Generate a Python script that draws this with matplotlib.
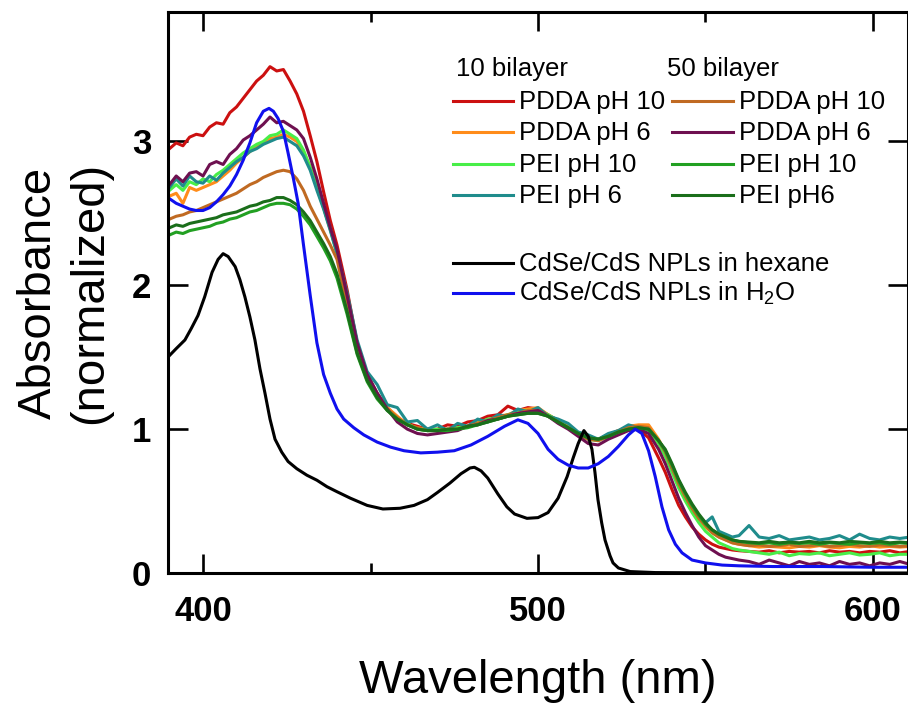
import numpy as np
import matplotlib
matplotlib.use("Agg")
import matplotlib.pyplot as plt
from matplotlib.lines import Line2D

plt.rcParams["font.family"] = ["Liberation Sans", "DejaVu Sans"]
plt.rcParams["mathtext.fontset"] = "custom"
plt.rcParams["mathtext.rm"] = "Liberation Sans"
plt.rcParams["mathtext.it"] = "Liberation Sans:italic"

# ---------------------------------------------------------------- data
# common wavelength sampling (nm) for the film spectra
wl_film = np.concatenate([np.arange(390, 441, 2), np.arange(443, 537, 3),
                          np.arange(538, 561, 2), np.arange(563, 612, 3)])

# 10 bilayer films
pdda_ph10_10 = [
    2.95, 2.99, 2.97, 3.03, 3.05, 3.04, 3.10, 3.13, 3.12, 3.20, 3.24, 3.30, 3.36,
    3.42, 3.46, 3.52, 3.49, 3.50, 3.42, 3.33, 3.21, 3.04, 2.86, 2.65, 2.45, 2.28,
    1.97, 1.60, 1.38, 1.25, 1.15, 1.08, 1.04, 1.02, 1.00, 1.00, 1.03, 1.02, 1.05,
    1.06, 1.09, 1.10, 1.16, 1.13, 1.15, 1.14, 1.10, 1.06, 1.01, 0.97, 0.94, 0.93,
    0.96, 0.99, 1.00, 1.00, 0.94, 0.80,
    0.70, 0.58, 0.47, 0.39, 0.32, 0.27, 0.23, 0.20, 0.18, 0.17, 0.16, 0.155,
    0.15, 0.145, 0.155, 0.14, 0.15, 0.145, 0.15, 0.14, 0.155, 0.145, 0.15, 0.14,
    0.15, 0.145, 0.155, 0.14, 0.15]
pdda_ph6_10 = [
    2.62, 2.64, 2.57, 2.68, 2.66, 2.68, 2.70, 2.72, 2.76, 2.80, 2.85, 2.89, 2.93,
    2.96, 2.99, 3.02, 3.03, 3.05, 3.03, 3.00, 2.93, 2.82, 2.68, 2.54, 2.39, 2.23,
    1.93, 1.58, 1.37, 1.24, 1.15, 1.09, 1.03, 1.01, 1.00, 0.99, 1.00, 1.01, 1.02,
    1.05, 1.06, 1.09, 1.10, 1.13, 1.14, 1.15, 1.10, 1.06, 1.02, 0.97, 0.94, 0.93,
    0.96, 0.99, 1.02, 1.03, 1.03, 0.93,
    0.84, 0.73, 0.62, 0.53, 0.45, 0.38, 0.32, 0.28, 0.25, 0.23, 0.21, 0.20,
    0.19, 0.18, 0.185, 0.18, 0.175, 0.185, 0.18, 0.19, 0.18, 0.175, 0.185, 0.18,
    0.19, 0.18, 0.185, 0.18, 0.185]
pei_ph10_10 = [
    2.66, 2.70, 2.66, 2.72, 2.70, 2.74, 2.72, 2.77, 2.80, 2.84, 2.88, 2.92, 2.95,
    2.98, 3.00, 3.04, 3.05, 3.08, 3.05, 3.02, 2.94, 2.82, 2.68, 2.54, 2.39, 2.22,
    1.92, 1.57, 1.36, 1.23, 1.14, 1.07, 1.04, 1.00, 0.99, 1.00, 0.99, 1.01, 1.02,
    1.04, 1.07, 1.08, 1.10, 1.12, 1.13, 1.13, 1.10, 1.06, 1.01, 0.97, 0.93, 0.92,
    0.95, 0.98, 1.00, 1.01, 0.99, 0.90,
    0.81, 0.70, 0.59, 0.50, 0.42, 0.35, 0.29, 0.25, 0.21, 0.19, 0.17, 0.16,
    0.15, 0.14, 0.13, 0.145, 0.12, 0.135, 0.13, 0.14, 0.12, 0.13, 0.14, 0.125,
    0.13, 0.14, 0.12, 0.13, 0.13]
pei_ph6_10 = [
    2.68, 2.74, 2.69, 2.76, 2.72, 2.71, 2.76, 2.73, 2.78, 2.82, 2.86, 2.89, 2.93,
    2.95, 2.98, 3.00, 3.02, 3.03, 3.00, 2.97, 2.90, 2.80, 2.66, 2.53, 2.38, 2.22,
    1.95, 1.62, 1.40, 1.31, 1.17, 1.15, 1.05, 1.06, 1.00, 1.03, 0.99, 1.04, 1.02,
    1.07, 1.05, 1.10, 1.09, 1.14, 1.12, 1.15, 1.09, 1.07, 1.04, 0.98, 0.96, 0.93,
    0.97, 0.99, 1.03, 1.01, 1.00, 0.92,
    0.85, 0.73, 0.64, 0.54, 0.47, 0.40, 0.35, 0.39, 0.29, 0.27, 0.25, 0.26,
    0.33, 0.25, 0.24, 0.26, 0.23, 0.24, 0.25, 0.23, 0.24, 0.26, 0.23, 0.27,
    0.24, 0.23, 0.25, 0.24, 0.25]

# 50 bilayer films
pdda_ph10_50 = [
    2.46, 2.48, 2.49, 2.51, 2.52, 2.54, 2.56, 2.58, 2.60, 2.62, 2.64, 2.67, 2.70,
    2.72, 2.75, 2.77, 2.79, 2.80, 2.79, 2.74, 2.66, 2.55, 2.46, 2.37, 2.28, 2.18,
    1.86, 1.55, 1.35, 1.23, 1.14, 1.08, 1.03, 1.01, 0.99, 0.99, 1.00, 1.00, 1.02,
    1.04, 1.06, 1.08, 1.10, 1.11, 1.13, 1.13, 1.09, 1.05, 1.01, 0.96, 0.93, 0.92,
    0.95, 0.98, 1.01, 1.02, 1.01, 0.92,
    0.84, 0.73, 0.62, 0.53, 0.45, 0.38, 0.33, 0.28, 0.25, 0.23, 0.21, 0.20,
    0.19, 0.195, 0.185, 0.19, 0.20, 0.185, 0.19, 0.195, 0.185, 0.19, 0.20, 0.19,
    0.185, 0.195, 0.19, 0.185, 0.19]
pdda_ph6_50 = [
    2.70, 2.76, 2.72, 2.78, 2.79, 2.76, 2.84, 2.86, 2.84, 2.91, 2.95, 3.01, 3.04,
    3.08, 3.12, 3.17, 3.13, 3.14, 3.11, 3.08, 3.02, 2.89, 2.74, 2.57, 2.40, 2.25,
    1.93, 1.60, 1.38, 1.25, 1.14, 1.05, 1.00, 0.97, 0.96, 0.97, 0.98, 0.99, 1.02,
    1.03, 1.06, 1.07, 1.09, 1.11, 1.12, 1.13, 1.09, 1.04, 1.00, 0.95, 0.90, 0.89,
    0.93, 0.96, 0.99, 1.00, 0.97, 0.86,
    0.76, 0.64, 0.52, 0.42, 0.33, 0.25, 0.19, 0.16, 0.13, 0.11, 0.10, 0.09,
    0.08, 0.06, 0.09, 0.07, 0.05, 0.08, 0.06, 0.07, 0.05, 0.08, 0.06, 0.07,
    0.05, 0.07, 0.06, 0.08, 0.06]
pei_ph10_50 = [
    2.35, 2.37, 2.36, 2.38, 2.39, 2.40, 2.41, 2.43, 2.44, 2.46, 2.47, 2.49, 2.51,
    2.52, 2.54, 2.56, 2.57, 2.57, 2.56, 2.53, 2.48, 2.42, 2.34, 2.26, 2.17, 2.05,
    1.80, 1.52, 1.33, 1.21, 1.13, 1.07, 1.03, 1.00, 0.99, 0.99, 0.99, 1.00, 1.01,
    1.03, 1.05, 1.07, 1.09, 1.10, 1.11, 1.11, 1.09, 1.05, 1.01, 0.97, 0.94, 0.93,
    0.95, 0.98, 1.00, 1.01, 1.00, 0.92,
    0.85, 0.75, 0.64, 0.55, 0.47, 0.40, 0.34, 0.30, 0.27, 0.25, 0.23, 0.22,
    0.21, 0.205, 0.21, 0.20, 0.21, 0.205, 0.21, 0.20, 0.21, 0.205, 0.20, 0.21,
    0.205, 0.21, 0.20, 0.21, 0.205]
pei_ph6_50 = [
    2.40, 2.42, 2.41, 2.43, 2.44, 2.45, 2.46, 2.47, 2.49, 2.50, 2.51, 2.53, 2.55,
    2.56, 2.58, 2.59, 2.61, 2.61, 2.59, 2.56, 2.51, 2.45, 2.37, 2.29, 2.20, 2.08,
    1.82, 1.53, 1.34, 1.22, 1.13, 1.07, 1.03, 1.00, 0.99, 0.99, 1.00, 1.00, 1.02,
    1.03, 1.05, 1.07, 1.09, 1.10, 1.11, 1.11, 1.09, 1.05, 1.01, 0.97, 0.94, 0.93,
    0.95, 0.98, 1.00, 1.01, 1.00, 0.92,
    0.86, 0.76, 0.65, 0.56, 0.48, 0.41, 0.35, 0.30, 0.27, 0.25, 0.23, 0.22,
    0.215, 0.21, 0.22, 0.21, 0.215, 0.21, 0.22, 0.21, 0.215, 0.21, 0.22, 0.215,
    0.21, 0.22, 0.21, 0.215, 0.21]

# nanoplatelets in hexane
wl_hexane = [389.5, 392, 394.6, 396.5, 398.5, 400.5, 402.7, 404.5, 406, 407.5,
             409.6, 411, 412.5, 414, 415.5, 417, 418.5, 420, 421.5, 423.5, 425.4,
             428, 431, 434, 437, 440, 444, 449, 453.7, 458.8, 463, 467, 470, 473.7,
             477, 479.7, 481, 483, 485, 488, 490.7, 493, 496.7, 500, 503, 506,
             508.7, 510.5, 512, 513.7, 515, 516.1, 517, 517.9, 519, 520, 521.5,
             522.4, 524, 527.5, 535, 560, 611]
abs_hexane = [1.50, 1.56, 1.62, 1.70, 1.79, 1.92, 2.09, 2.18, 2.22, 2.20,
              2.13, 2.04, 1.92, 1.78, 1.62, 1.42, 1.25, 1.07, 0.93, 0.84, 0.775,
              0.725, 0.68, 0.645, 0.60, 0.565, 0.52, 0.47, 0.445, 0.45, 0.47, 0.51,
              0.56, 0.625, 0.69, 0.73, 0.735, 0.71, 0.66, 0.55, 0.46, 0.41, 0.38,
              0.385, 0.42, 0.52, 0.67, 0.80, 0.90, 0.99, 0.95, 0.86, 0.70, 0.51,
              0.35, 0.23, 0.12, 0.07, 0.035, 0.01, 0.003, 0.0, 0.0]

# nanoplatelets in water
wl_water = [389.5, 392, 394, 396, 398, 400, 402, 404, 406, 408, 410, 412, 414,
            416, 418, 419.7, 421, 422.4, 424, 425.4, 427, 428.4, 430, 432, 434,
            436, 438, 440, 442, 445, 448, 452, 456, 460, 465, 470, 475, 480, 485,
            490, 494, 497, 500, 503, 506, 509, 512, 515, 518, 521, 524, 527, 529,
            531, 533, 535, 537, 539, 541, 543, 546, 550, 555, 560, 570, 585, 600,
            611]
abs_water = [2.61, 2.57, 2.55, 2.53, 2.52, 2.52, 2.54, 2.58, 2.63, 2.69, 2.77,
             2.87, 2.99, 3.13, 3.21, 3.23, 3.21, 3.16, 3.07, 2.92, 2.74, 2.57,
             2.28, 1.93, 1.60, 1.38, 1.25, 1.14, 1.07, 1.01, 0.96, 0.91, 0.875,
             0.85, 0.835, 0.84, 0.85, 0.89, 0.95, 1.02, 1.065, 1.04, 0.97, 0.86,
             0.79, 0.75, 0.73, 0.73, 0.76, 0.81, 0.88, 0.96, 1.00, 0.97, 0.85,
             0.67, 0.46, 0.30, 0.20, 0.14, 0.09, 0.07, 0.055, 0.05, 0.045, 0.045,
             0.04, 0.04]

film_series = [
    (pdda_ph10_10, "#cc1010", "PDDA pH 10"),
    (pdda_ph6_10, "#ff8c1a", "PDDA pH 6"),
    (pei_ph10_10, "#48ee48", "PEI pH 10"),
    (pei_ph6_10, "#1f8c8c", "PEI pH 6"),
    (pdda_ph10_50, "#c06a22", "PDDA pH 10"),
    (pdda_ph6_50, "#6e1050", "PDDA pH 6"),
    (pei_ph10_50, "#22a022", "PEI pH 10"),
    (pei_ph6_50, "#1a6e1a", "PEI pH6"),
]
solution_series = [
    (wl_hexane, abs_hexane, "#000000", "CdSe/CdS NPLs in hexane"),
    (wl_water, abs_water, "#1010ee", "CdSe/CdS NPLs in H$_2$O"),
]

# ---------------------------------------------------------------- figure
W, H = 908, 704
fig = plt.figure(figsize=(W / 100, H / 100), dpi=100)
ax = fig.add_axes([168 / W, 1 - 573 / H, (907.5 - 168) / W, (573 - 12) / H])

LW = 2.2
for vals, col, _ in film_series:
    ax.plot(wl_film, vals, color=col, lw=LW, solid_joinstyle="round")
for wl, vals, col, _ in solution_series:
    ax.plot(wl, vals, color=col, lw=LW, solid_joinstyle="round")

ax.set_xlim(389.55, 610.3)
ax.set_ylim(0, 3.9)
ax.set_xticks([400, 500, 600])
ax.set_xticks([450, 550], minor=True)
ax.set_yticks([0, 1, 2, 3])

for s in ax.spines.values():
    s.set_linewidth(2.2)
ax.tick_params(which="both", direction="in", top=True, right=True, width=1.9)
ax.tick_params(axis="x", which="major", length=13.5, pad=16)
ax.tick_params(axis="x", which="minor", length=7)
ax.tick_params(axis="y", which="major", length=14.5, pad=12)
for lab in ax.get_xticklabels() + ax.get_yticklabels():
    lab.set_fontsize(25)
    lab.set_fontweight("bold")

ax.set_xlabel("Wavelength (nm)", fontsize=34, labelpad=22)
ax.set_ylabel("Absorbance\n(normalized)", fontsize=34, multialignment="center")
ax.yaxis.set_label_coords(-0.14, 0.5)
ax.yaxis.label.set_verticalalignment("center")


# ---------------------------------------------------------------- key
def frac(px, py):
    return (px - 168) / (907.5 - 168), (573 - py) / (573 - 12)


LEG_FS = 18.5
rows_y = [101, 132, 164, 195]
ax.text(*frac(456, 69), "10 bilayer", transform=ax.transAxes,
        fontsize=LEG_FS, va="center", ha="left")
ax.text(*frac(667, 69), "50 bilayer", transform=ax.transAxes,
        fontsize=LEG_FS, va="center", ha="left")
for i, (vals, col, label) in enumerate(film_series):
    c = i // 4
    y = rows_y[i % 4]
    x0, x1, xt = (453, 513, 519) if c == 0 else (672, 733, 739)
    (fx0, fy), (fx1, _) = frac(x0, y), frac(x1, y)
    ax.add_line(Line2D([fx0, fx1], [fy, fy], transform=ax.transAxes,
                       color=col, lw=LW))
    ax.text(*frac(xt, y + 1), label, transform=ax.transAxes,
            fontsize=LEG_FS, va="center", ha="left")
for (wl, vals, col, label), y in zip(solution_series, [263, 293]):
    (fx0, fy), (fx1, _) = frac(453, y), frac(513, y)
    ax.add_line(Line2D([fx0, fx1], [fy, fy], transform=ax.transAxes,
                       color=col, lw=LW))
    ax.text(frac(519, y)[0], frac(519, y + 8)[1], label, transform=ax.transAxes,
            fontsize=LEG_FS, va="baseline", ha="left")

fig.savefig("out.png", dpi=100)
